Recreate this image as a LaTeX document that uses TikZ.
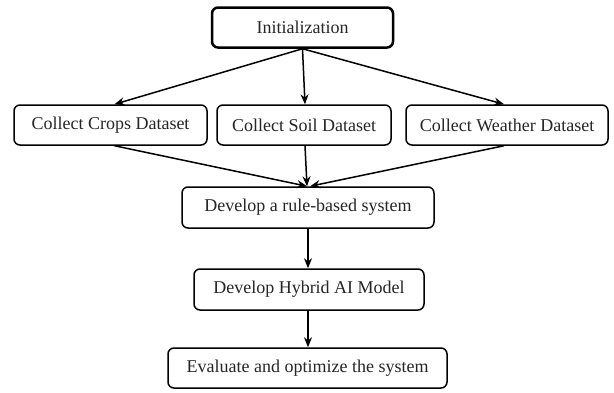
\documentclass[tikz,border=0pt]{standalone}
\usepackage{fontspec}
\setmainfont{Liberation Serif}
\usetikzlibrary{arrows.meta}
\begin{document}
\begin{tikzpicture}[x=1pt,y=-1pt,
  box/.style={draw=black,line width=1.5pt,rounded corners=6pt,fill=white,inner sep=0pt,font=\fontsize{18}{20}\selectfont,text=black!85},
  arr/.style={line width=1.5pt,-{Stealth[length=10pt,width=8pt]}}]
\useasboundingbox[fill=white] (0,0) rectangle (614,392);
\node[box,line width=2.5pt,minimum width=181pt,minimum height=40pt] (init) at (302.5,27.5) {Initialization};
\node[box,minimum width=193pt,minimum height=40pt] (crops) at (110.5,125) {Collect Crops Dataset};
\node[box,minimum width=174pt,minimum height=40pt] (soil) at (304,125) {Collect Soil Dataset};
\node[box,minimum width=202pt,minimum height=40pt] (weather) at (507,125) {Collect Weather Dataset};
\node[box,minimum width=252pt,minimum height=41pt] (rule) at (308,207.5) {Develop a rule-based system};
\node[box,minimum width=230pt,minimum height=41pt] (hybrid) at (309,289.5) {Develop Hybrid AI Model};
\node[box,minimum width=279pt,minimum height=40pt] (eval) at (307.5,368) {Evaluate and optimize the system};
\coordinate (r) at ([xshift=-1pt]rule.north);
\draw[arr] (init.south) -- ([xshift=4pt]crops.north);
\draw[arr] (init.south) -- ([xshift=1pt]soil.north);
\draw[arr] (init.south) -- ([xshift=-3pt]weather.north);
\draw[arr] ([xshift=4pt]crops.south) -- (r);
\draw[arr] ([xshift=1pt]soil.south) -- (r);
\draw[arr] ([xshift=-3pt]weather.south) -- ([xshift=2pt]rule.north);
\draw[arr] (rule.south) -- (rule.south |- hybrid.north);
\draw[arr] (rule.south |- hybrid.south) -- (rule.south |- eval.north);
\end{tikzpicture}
\end{document}
